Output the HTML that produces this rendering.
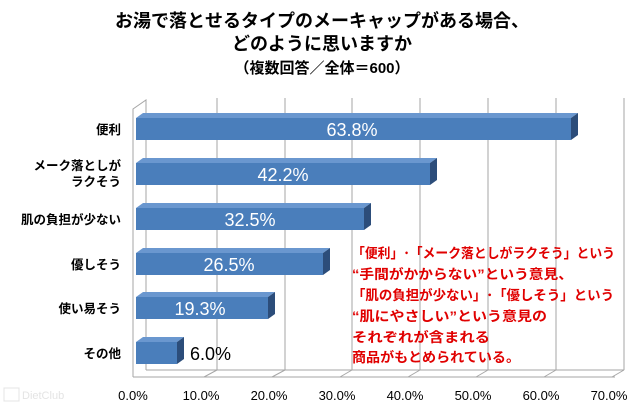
<!DOCTYPE html>
<html><head><meta charset="utf-8"><style>
html,body{margin:0;padding:0;background:#fff;}
svg{display:block;font-family:"Liberation Sans","Noto Sans CJK JP",sans-serif;}
</style></head><body>
<svg width="640" height="407" viewBox="0 0 640 407" xmlns="http://www.w3.org/2000/svg">
<rect width="640" height="407" fill="#fff"/>
<g font-weight="bold" text-anchor="middle" fill="#000">
<text x="322" y="27" font-size="18">お湯で落とせるタイプのメーキャップがある場合、</text>
<text x="322" y="50" font-size="18">どのように思いますか</text>
<text x="322" y="73" font-size="15">（複数回答／全体＝600）</text>
</g>
<g stroke="#a6a6a6" stroke-width="1" fill="none">
<polyline points="133,377 133,109 146,100 146,370"/>
<line x1="133" y1="377" x2="615" y2="377"/>
<line x1="146" y1="370" x2="624" y2="370"/>
<line x1="217" y1="98" x2="217" y2="370"/><line x1="204" y1="377" x2="217" y2="370"/>
<line x1="285" y1="98" x2="285" y2="370"/><line x1="272" y1="377" x2="285" y2="370"/>
<line x1="352" y1="98" x2="352" y2="370"/><line x1="340" y1="377" x2="352" y2="370"/>
<line x1="420" y1="98" x2="420" y2="370"/><line x1="408" y1="377" x2="420" y2="370"/>
<line x1="488" y1="98" x2="488" y2="370"/><line x1="476" y1="377" x2="488" y2="370"/>
<line x1="556" y1="98" x2="556" y2="370"/><line x1="544" y1="377" x2="556" y2="370"/>
<line x1="624" y1="98" x2="624" y2="370"/><line x1="612" y1="377" x2="624" y2="370"/>
</g>
<g>
<polygon points="136,118 143,113 578,113 571,118" fill="#6a97cf"/><polygon points="571,118 578,113 578,135 571,140" fill="#2c4d7a"/><rect x="136" y="118" width="435" height="22" fill="#4a7ebb"/>
<polygon points="136,163 143,158 437,158 430,163" fill="#6a97cf"/><polygon points="430,163 437,158 437,180 430,185" fill="#2c4d7a"/><rect x="136" y="163" width="294" height="22" fill="#4a7ebb"/>
<polygon points="136,208 143,203 371,203 364,208" fill="#6a97cf"/><polygon points="364,208 371,203 371,225 364,230" fill="#2c4d7a"/><rect x="136" y="208" width="228" height="22" fill="#4a7ebb"/>
<polygon points="136,253 143,248 330,248 323,253" fill="#6a97cf"/><polygon points="323,253 330,248 330,270 323,275" fill="#2c4d7a"/><rect x="136" y="253" width="187" height="22" fill="#4a7ebb"/>
<polygon points="136,297 143,292 275,292 268,297" fill="#6a97cf"/><polygon points="268,297 275,292 275,314 268,319" fill="#2c4d7a"/><rect x="136" y="297" width="132" height="22" fill="#4a7ebb"/>
<polygon points="136,342 143,337 184,337 177,342" fill="#6a97cf"/><polygon points="177,342 184,337 184,359 177,364" fill="#2c4d7a"/><rect x="136" y="342" width="41" height="22" fill="#4a7ebb"/>
</g>
<g font-size="18" fill="#fff" text-anchor="middle">
<text x="352" y="136">63.8%</text>
<text x="283" y="181">42.2%</text>
<text x="250" y="226">32.5%</text>
<text x="229" y="271">26.5%</text>
<text x="200" y="315">19.3%</text>
</g>
<text x="190" y="360" font-size="18" fill="#000">6.0%</text>
<g font-size="12.5" font-weight="bold" text-anchor="end" fill="#000">
<text x="121" y="134">便利</text>
<text x="121" y="170">メーク落としが</text>
<text x="121" y="186">ラクそう</text>
<text x="121" y="224">肌の負担が少ない</text>
<text x="121" y="269">優しそう</text>
<text x="121" y="313">使い易そう</text>
<text x="121" y="358">その他</text>
</g>
<g font-size="13" text-anchor="middle" fill="#000">
<text x="133" y="400">0.0%</text>
<text x="201" y="400">10.0%</text>
<text x="269" y="400">20.0%</text>
<text x="337" y="400">30.0%</text>
<text x="405" y="400">40.0%</text>
<text x="473" y="400">50.0%</text>
<text x="541" y="400">60.0%</text>
<text x="609" y="400">70.0%</text>
</g>
<g font-size="13.5" font-weight="bold" fill="#e00000" lengthAdjust="spacingAndGlyphs">
<text x="352" y="258" textLength="263" lengthAdjust="spacingAndGlyphs">「便利」･「メーク落としがラクそう」という</text>
<text x="352" y="279" textLength="221" lengthAdjust="spacingAndGlyphs">“手間がかからない”という意見、</text>
<text x="352" y="300" textLength="262" lengthAdjust="spacingAndGlyphs">「肌の負担が少ない」･「優しそう」という</text>
<text x="352" y="321" textLength="195" lengthAdjust="spacingAndGlyphs">“肌にやさしい”という意見の</text>
<text x="352" y="342" textLength="138" lengthAdjust="spacingAndGlyphs">それぞれが含まれる</text>
<text x="352" y="362" textLength="168" lengthAdjust="spacingAndGlyphs">商品がもとめられている。</text>
</g>
<text x="22" y="399" font-size="11" fill="#e4e4e4">DietClub</text>
<rect x="4" y="388" width="15" height="13" fill="none" stroke="#e4e4e4"/>
</svg>
</body></html>
